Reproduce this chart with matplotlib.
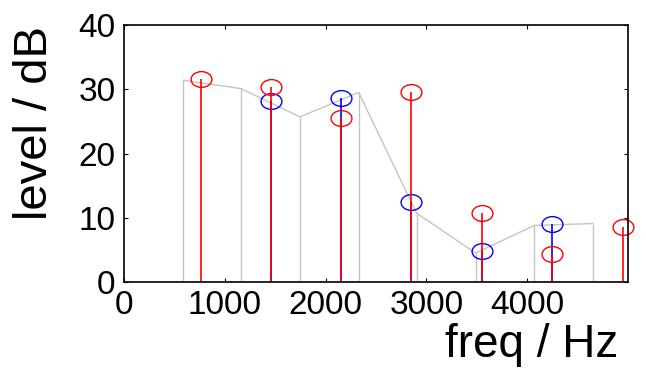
import matplotlib
matplotlib.use("Agg")
import matplotlib.pyplot as plt
import numpy as np
from matplotlib.path import Path

plt.rcParams['font.family'] = ['Liberation Sans', 'DejaVu Sans']

# spectral envelope (gray)
env_freq = [588, 1160, 1746, 2328, 2903, 3489, 4070, 4650]
env_level = [31.4, 30.1, 25.7, 29.5, 10.7, 4.5, 8.8, 9.1]

# red harmonics
red_freq = [764, 1458, 2156, 2851, 3552, 4249, 4947]
red_level = [31.6, 30.3, 25.6, 29.5, 10.7, 4.3, 8.6]

# blue harmonics
blue_freq = [1458, 2156, 2851, 3552, 4249]
blue_level = [28.1, 28.7, 12.4, 4.9, 9.1]

xticks = [0, 1000, 2000, 3000, 4000]
yticks = [0, 10, 20, 30, 40]

# elliptical marker, wider than tall
circ = Path.unit_circle()
ellipse = Path(circ.vertices * np.array([1.32, 1.0]), circ.codes)

fig = plt.figure(figsize=(6.46, 3.69), dpi=100)
ax = fig.add_axes([124 / 646, 87 / 369, 504 / 646, 257 / 369])

gray = '#c4c4c4'
ax.plot(env_freq, env_level, color=gray, lw=1.0)
ax.vlines(env_freq, 0, env_level, color=gray, lw=1.0)


def draw_stems(freq, level, color):
    ml, sl, bl = ax.stem(freq, level, basefmt=' ')
    sl.set_color(color)
    sl.set_linewidth(1.2)
    ml.set_marker(ellipse)
    ml.set_markersize(15)
    ml.set_markerfacecolor('none')
    ml.set_markeredgecolor(color)
    ml.set_markeredgewidth(1.0)
    ml.set_clip_on(False)


draw_stems(blue_freq, blue_level, 'blue')
draw_stems(red_freq, red_level, 'red')

ax.set_xlim(0, 5000)
ax.set_ylim(0, 40)
ax.set_xticks(xticks)
ax.set_yticks(yticks)
ax.tick_params(direction='in', length=3, width=0.8, labelsize=24,
               top=True, right=True, pad=6)
for s in ax.spines.values():
    s.set_linewidth(1.2)

fig.text(532 / 646, 1 - 345 / 369, 'freq / Hz', fontsize=33,
         ha='center', va='center')
fig.text(35 / 646, 1 - 123 / 369, 'level / dB', fontsize=34,
         ha='center', va='center', rotation=90)

fig.savefig('out.png', dpi=100)
